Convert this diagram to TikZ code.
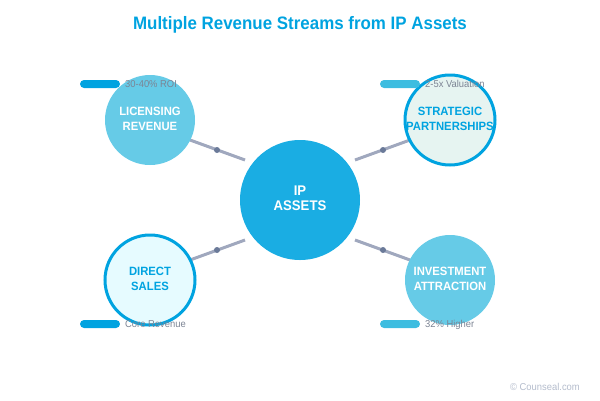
\documentclass[tikz,border=0pt]{standalone}
\usepackage{fontspec}
\setmainfont[FakeStretch=0.94]{Liberation Sans}
\definecolor{brand}{HTML}{00A3E0}
\definecolor{hubblue}{HTML}{1AADE3}
\definecolor{softblue}{HTML}{66CBE7}
\definecolor{barblue}{HTML}{3DBDE0}
\definecolor{linkgray}{HTML}{A0A8BE}
\definecolor{dotgray}{HTML}{6B7A99}
\definecolor{notegray}{HTML}{7C8494}
\definecolor{markgray}{HTML}{B4BCCC}
\definecolor{palegreen}{HTML}{E6F4F1}
\definecolor{palecyan}{HTML}{E6FBFF}
\tikzset{
    link/.style={line width=3pt, color=linkgray},
    joint/.style={circle, fill=dotgray, inner sep=0pt, minimum size=6pt},
    stream/.style={circle, inner sep=0pt, minimum size=90pt},
    solidstream/.style={stream, fill=softblue},
    ringstream/.style={stream, draw=brand, line width=3pt},
    streamtext/.style={inner sep=0pt, align=center, font=\bfseries\fontsize{12}{15}\selectfont},
    pill/.style={rounded corners=4pt},
    note/.style={anchor=base west, inner sep=0pt, text=notegray, font=\fontsize{10}{12}\selectfont},
}
\begin{document}
\begin{tikzpicture}[x=1pt, y=-1pt]
    \useasboundingbox (0,0) rectangle (600,400);
    \node [text=brand, font=\bfseries\fontsize{18}{22}\selectfont] (title) at (300,25) {Multiple Revenue Streams from IP Assets};
    % Link ends
    \coordinate (hubnw) at (245,160);
    \coordinate (hubne) at (355,160);
    \coordinate (hubsw) at (245,240);
    \coordinate (hubse) at (355,240);
    \coordinate (licend) at (190,140);
    \coordinate (strend) at (410,140);
    \coordinate (dirend) at (190,260);
    \coordinate (invend) at (410,260);
    % Links
    \draw[link] (hubnw) -- (licend);
    \draw[link] (hubne) -- (strend);
    \draw[link] (hubsw) -- (dirend);
    \draw[link] (hubse) -- (invend);
    % Dots on links
    \node [joint] (licdot) at (217,150) {};
    \node [joint] (strdot) at (383,150) {};
    \node [joint] (dirdot) at (217,250) {};
    \node [joint] (invdot) at (383,250) {};
    % Circles
    \node [circle, fill=hubblue, inner sep=0pt, minimum size=120pt] (hub) at (300,200) {};
    \node [solidstream] (licensing) at (150,120) {};
    \node [ringstream, fill=palegreen] (strategic) at (450,120) {};
    \node [ringstream, fill=palecyan] (direct) at (150,280) {};
    \node [solidstream] (investment) at (450,280) {};
    % Circle texts
    \node [inner sep=0pt, align=center, text=white, font=\bfseries\fontsize{14}{15}\selectfont] (hubtext) at (300,198.5) {IP\\ASSETS};
    \node [streamtext, text=white] (lictext) at (150,119) {LICENSING\\REVENUE};
    \node [streamtext, text=brand] (strtext) at (450,119) {STRATEGIC\\PARTNERSHIPS};
    \node [streamtext, text=brand] (dirtext) at (150,279) {DIRECT\\SALES};
    \node [streamtext, text=white] (invtext) at (450,279) {INVESTMENT\\ATTRACTION};
    % Bars and notes
    \fill[pill, brand] (80,80) rectangle (120,88);
    \fill[pill, barblue] (380,80) rectangle (420,88);
    \fill[pill, brand] (80,320) rectangle (120,328);
    \fill[pill, barblue] (380,320) rectangle (420,328);
    \node [note] (licnote) at (125,87) {30-40\% ROI};
    \node [note] (strnote) at (425,87) {2-5x Valuation};
    \node [note] (dirnote) at (125,327) {Core Revenue};
    \node [note] (invnote) at (425,327) {32\% Higher};
    \node [anchor=base east, inner sep=0pt, text=markgray, font=\fontsize{10}{12}\selectfont] (mark) at (580,390) {© Counseal.com};
\end{tikzpicture}
\end{document}
